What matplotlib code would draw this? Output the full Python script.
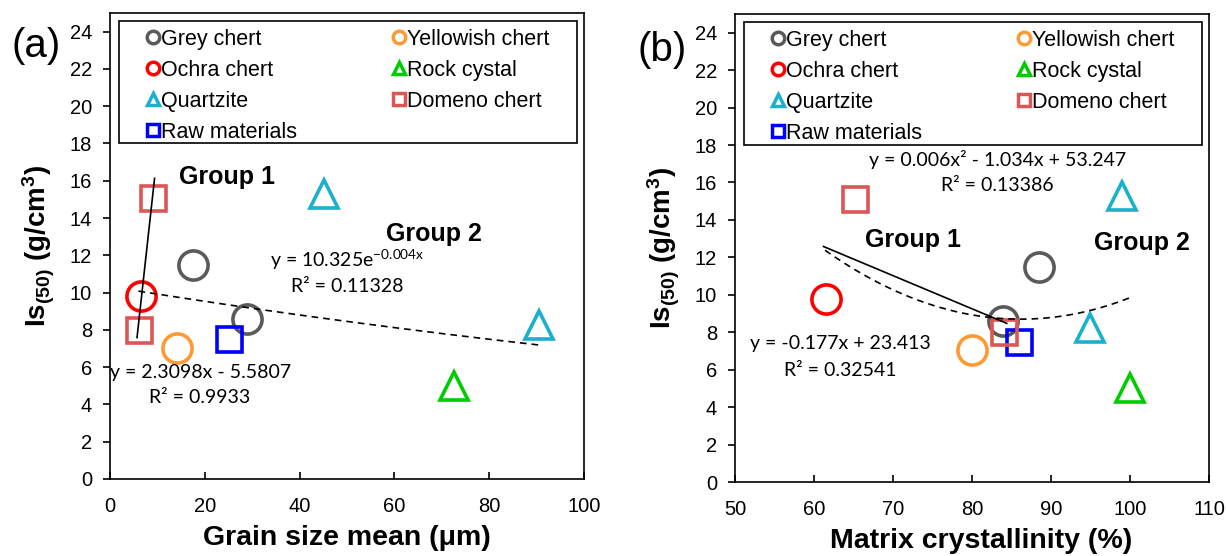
import numpy as np
import matplotlib
matplotlib.use("Agg")
import matplotlib.pyplot as plt
from matplotlib.lines import Line2D
from matplotlib.patches import Rectangle

plt.rcParams['font.family'] = ['Liberation Sans', 'DejaVu Sans']
plt.rcParams['mathtext.default'] = 'regular'

# series, in legend order (column by column)
names = ['Grey chert', 'Ochra chert', 'Quartzite', 'Raw materials',
         'Yellowish chert', 'Rock cystal', 'Domeno chert']
markers = ['o', 'o', '^', 's', 'o', '^', 's']
colors = ['#5a5a5a', '#ff0000', '#1bb0cc', '#0000ff', '#ff9933', '#00cc00', '#dd5555']

# Is(50) values (g/cm3), same samples in both panels
is50 = [[11.5, 8.6], [9.8], [15.3, 8.25], [7.5], [7.05], [5.0], [15.1, 8.0]]
# (a) grain size mean (um)
grain = [[17.5, 28.9], [6.6], [45.1, 90.5], [25.1], [14.1], [72.6], [9.1, 6.1]]
# (b) matrix crystallinity (%)
cryst = [[88.5, 83.9], [61.5], [99.0, 94.9], [85.9], [80.0], [100.0], [65.2, 84.0]]

# trendlines: coefficients and x extent
lin_a = [2.3098, -5.5807]
lin_a_x = [5.7, 9.4]
exp_a = [10.325, -0.004]
exp_a_x = [6.0, 90.5]
lin_b = [-0.177, 23.413]
lin_b_x = [61.2, 84.4]
quad_b = [0.006, -1.034, 53.247]
quad_b_x = [61.4, 100.0]

ms_map = {'o': 21, 's': 18, '^': 20}

fig = plt.figure(figsize=(12.26, 5.56), dpi=100)
ax_a = fig.add_axes([110 / 1226, 77 / 556, 474 / 1226, 466 / 556])
ax_b = fig.add_axes([735 / 1226, 74 / 556, 474 / 1226, 468 / 556])


def setup(ax, xlim, xticks, xlabel, xlab_x):
    ax.set_xlim(*xlim)
    ax.set_ylim(0, 25)
    ax.set_xticks(xticks)
    ax.set_yticks(np.arange(0, 25, 2))
    ax.tick_params(axis='y', direction='out', length=5, width=1.2, pad=8, labelsize=14.5)
    ax.tick_params(axis='x', direction='in', length=5, width=1.2, pad=13, labelsize=14.5)
    for s in ax.spines.values():
        s.set_linewidth(1.2)
    ax.set_xlabel(xlabel, fontsize=20.5, fontweight='bold', va='center')
    ax.xaxis.set_label_coords(xlab_x, -0.126)
    ax.set_ylabel('Is$_{(50)}$ (g/cm$^{3}$)', fontsize=20, fontweight='bold', va='center')
    ax.yaxis.set_label_coords(-0.149, 0.5)

    # legend with separate frame
    ax.add_patch(Rectangle((0.019, 0.72), 0.966, 0.262, transform=ax.transAxes,
                           fill=False, ec='black', lw=1.2, zorder=5))
    handles = [Line2D([], [], ls='none', marker=m, mfc='none', mec=c, ms=9, mew=2.5)
               for m, c in zip(markers, colors)]
    ax.legend(handles, names, ncol=2, mode='expand', loc='upper left',
              bbox_to_anchor=(0.08, 0.72, 0.846, 0.246), frameon=False,
              fontsize=15.5, borderpad=0, borderaxespad=0, handlelength=0.5,
              handletextpad=0.12, labelspacing=0.46)


def scatter(ax, xs):
    for x, y, m, c in zip(xs, is50, markers, colors):
        ax.plot(x, y, ls='none', marker=m, mfc='none', mec=c, ms=ms_map[m], mew=2.6,
                zorder=3)


eq_font = dict(family=['Lato', 'DejaVu Sans'], fontsize=14, ha='center', va='center')
grp_font = dict(fontsize=18, fontweight='bold', ha='center', va='center')

# panel (a)
scatter(ax_a, grain)
x = np.linspace(*lin_a_x, 50)
ax_a.plot(x, lin_a[0] * x + lin_a[1], color='black', lw=1.2, zorder=4)
x = np.linspace(*exp_a_x, 200)
ax_a.plot(x, exp_a[0] * np.exp(exp_a[1] * x), color='black', lw=1.2, ls=(0, (4, 3)), zorder=4)
ax_a.text(24.7, 16.2, 'Group 1', **grp_font)
ax_a.text(68.4, 13.15, 'Group 2', **grp_font)
ax_a.text(50.0, 11.75, 'y = 10.325e$^{-0.004x}$', **eq_font)
ax_a.text(50.0, 10.35, 'R² = 0.11328', **eq_font)
ax_a.text(19.2, 5.7, 'y = 2.3098x - 5.5807', **eq_font)
ax_a.text(19.0, 4.35, 'R² = 0.9933', **eq_font)
setup(ax_a, (0, 100), np.arange(0, 101, 20), 'Grain size mean (\u03bcm)', 0.5)

# panel (b)
scatter(ax_b, cryst)
x = np.linspace(*lin_b_x, 50)
ax_b.plot(x, lin_b[0] * x + lin_b[1], color='black', lw=1.2, zorder=4)
x = np.linspace(*quad_b_x, 200)
ax_b.plot(x, quad_b[0] * x ** 2 + quad_b[1] * x + quad_b[2], color='black', lw=1.2,
          ls=(0, (4, 3)), zorder=4)
ax_b.text(72.5, 12.95, 'Group 1', **grp_font)
ax_b.text(101.5, 12.75, 'Group 2', **grp_font)
ax_b.text(83.2, 17.25, 'y = 0.006x² - 1.034x + 53.247', **eq_font)
ax_b.text(83.2, 15.85, 'R² = 0.13386', **eq_font)
ax_b.text(63.3, 7.4, 'y = -0.177x + 23.413', **eq_font)
ax_b.text(63.3, 5.95, 'R² = 0.32541', **eq_font)
setup(ax_b, (50, 110), np.arange(50, 111, 10), 'Matrix crystallinity (%)', 0.52)

fig.text(36 / 1226, 1 - 46 / 556, '(a)', fontsize=29, ha='center', va='center')
fig.text(662 / 1226, 1 - 50 / 556, '(b)', fontsize=29, ha='center', va='center')

fig.savefig('out.png', dpi=100)
